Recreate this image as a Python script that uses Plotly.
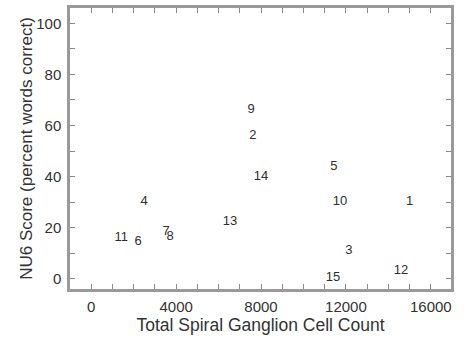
import plotly.graph_objects as go

subjects = ["1", "2", "3", "4", "5", "6", "7", "8", "9", "10", "11", "12", "13", "14", "15"]
cell_count = [15000, 7620, 12140, 2490, 11430, 2210, 3530, 3720, 7530, 11720, 1410, 14590, 6540, 8000, 11390]
nu6_score = [30, 56, 11, 30, 44, 14.5, 18.5, 16.5, 66, 30, 16, 3, 22.5, 40, 0.5]

x_ticks = [0, 4000, 8000, 12000, 16000]
y_ticks = [0, 20, 40, 60, 80, 100]

font_family = "Arial, Liberation Sans, Helvetica, sans-serif"

fig = go.Figure(go.Scatter(
    x=cell_count, y=nu6_score, text=subjects, mode="text",
    textposition="middle center",
    textfont=dict(family=font_family, size=13, color="#2e2e2e"),
    hoverinfo="x+y+text",
))

axis_common = dict(
    showline=True, linecolor="#9a9a9a", linewidth=2.5, mirror="allticks",
    ticks="inside", ticklen=5, tickwidth=1.2, tickcolor="#888888",
    showgrid=False, zeroline=False, automargin=False,
    tickfont=dict(family=font_family, size=15, color="#333333"),
)

fig.update_layout(
    width=467, height=340,
    margin=dict(l=70, r=16, t=8, b=51),
    plot_bgcolor="white", paper_bgcolor="white",
    showlegend=False,
    xaxis=dict(
        range=[-1000, 16950], tickvals=x_ticks, ticktext=[str(v) for v in x_ticks],
        minor=dict(dtick=1000, tick0=0, ticks="inside", ticklen=5, tickwidth=1.2, tickcolor="#888888"),
        title=dict(text="Total Spiral Ganglion Cell Count", standoff=5,
                   font=dict(family=font_family, size=17.5, color="#333333")),
        ticklabelstandoff=2,
        **axis_common,
    ),
    yaxis=dict(
        range=[-4, 106], tickvals=y_ticks, ticktext=[str(v) for v in y_ticks],
        minor=dict(dtick=10, tick0=0, ticks="inside", ticklen=5, tickwidth=1.2, tickcolor="#888888"),
        title=dict(text="NU6 Score (percent words correct)", standoff=0,
                   font=dict(family=font_family, size=17, color="#333333")),
        ticklabelstandoff=3,
        **axis_common,
    ),
)

fig.write_html("out.html", config={"displayModeBar": False},
               post_script="document.body.style.margin='0';document.body.style.overflow='hidden';")
